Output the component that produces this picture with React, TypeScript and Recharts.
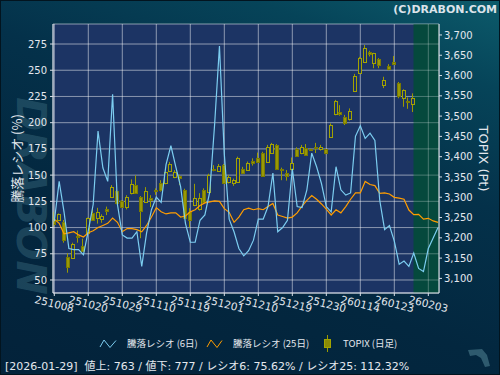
import React from "react";
import {
  ComposedChart,
  XAxis,
  YAxis,
  CartesianGrid,
  Line,
  Bar,
  ReferenceArea,
} from "recharts";

// x tick labels, one every 7 trading days
const dateTicks = [
  "251008", "251020", "251029", "251110", "251119", "251201",
  "251210", "251219", "251230", "260114", "260123", "260203",
];

// 騰落レシオ (6日)
const ratio6 = [
  106, 144, 115, 80, 79, 79, 74, 97, 122, 192,
  157, 144, 227, 122, 93, 90, 90, 96, 63, 95,
  117, 129, 124, 160, 178, 158, 139, 104, 86, 86,
  107, 112, 134, 198, 273, 170, 108, 96, 80, 73,
  78, 88, 108, 108, 120, 152, 96, 100, 107, 156,
  120, 119, 136, 171, 158, 142, 120, 115, 158, 136,
  131, 133, 187, 197, 185, 190, 183, 126, 98, 102,
  87, 65, 68, 63, 75.6, 61, 58, 80, 90, 100,
];

// 騰落レシオ (25日)
const ratio25 = [
  108, 104, 94, 95, 96, 93, 91, 95, 97, 100,
  102, 104, 109, 105, 96, 99, 99, 98, 96, 102,
  110, 119, 115, 113, 114, 114, 110, 111, 115, 117,
  121, 123.5, 124.5, 125.5, 125, 118, 114.5, 105, 110, 117,
  118.5, 117, 118, 117, 120, 123, 112, 110.5, 109, 110,
  114, 120.5, 126, 130.5, 127, 122.5, 117.5, 112, 117, 114,
  120, 127, 133, 133, 144, 141, 140, 132.6, 133, 132,
  128.8, 128, 127, 116.7, 112.3, 112.6, 108, 108.8, 106.3, 105,
];

// TOPIX daily candles
const topixOpen = [
  3244, 3245, 3240, 3152, 3151, 3204, 3180, 3213, 3262, 3250,
  3247, 3271, 3301, 3316, 3291, 3275, 3311, 3329, 3301, 3289,
  3299, 3318, 3334, 3334, 3365, 3349, 3352, 3319, 3264, 3281,
  3270, 3318, 3314, 3369, 3365, 3379, 3338, 3334, 3338, 3369,
  3367, 3390, 3396, 3410, 3388, 3410, 3429, 3370, 3359, 3370,
  3418, 3408, 3422, 3419, 3423, 3420, 3418, 3448, 3504, 3511,
  3499, 3492, 3563, 3607, 3634, 3657, 3632, 3640, 3577, 3624,
  3634, 3582, 3544, 3536, 3530,
];
const topixHigh = [
  3264, 3260, 3244, 3162, 3188, 3218, 3198, 3250, 3276, 3274,
  3258, 3277, 3330, 3319, 3293, 3305, 3344, 3354, 3303, 3325,
  3305, 3322, 3342, 3363, 3387, 3367, 3355, 3321, 3273, 3333,
  3310, 3322, 3358, 3379, 3382, 3382, 3355, 3346, 3400, 3375,
  3388, 3396, 3410, 3412, 3429, 3434, 3431, 3373, 3367, 3398,
  3423, 3429, 3431, 3420, 3434, 3429, 3420, 3482, 3540, 3527,
  3503, 3519, 3604, 3646, 3675, 3661, 3656, 3643, 3597, 3628,
  3648, 3584, 3566, 3546, 3556,
];
const topixLow = [
  3227, 3242, 3188, 3114, 3150, 3188, 3166, 3211, 3243, 3235,
  3237, 3256, 3299, 3283, 3275, 3270, 3307, 3308, 3199, 3287,
  3276, 3306, 3314, 3332, 3363, 3347, 3330, 3249, 3226, 3278,
  3267, 3287, 3311, 3364, 3363, 3334, 3334, 3328, 3336, 3357,
  3365, 3378, 3385, 3351, 3386, 3408, 3367, 3342, 3341, 3366,
  3401, 3406, 3403, 3414, 3409, 3415, 3406, 3446, 3502, 3501,
  3478, 3489, 3563, 3605, 3632, 3647, 3618, 3618, 3569, 3613,
  3626, 3544, 3523, 3518, 3510,
];
const topixClose = [
  3234, 3258, 3195, 3129, 3185, 3201, 3168, 3248, 3245, 3264,
  3253, 3267, 3326, 3285, 3277, 3301, 3333, 3310, 3267, 3316,
  3293, 3317, 3318, 3361, 3382, 3361, 3347, 3250, 3244, 3297,
  3297, 3289, 3355, 3366, 3377, 3336, 3351, 3342, 3396, 3360,
  3384, 3384, 3388, 3352, 3425, 3431, 3369, 3366, 3353, 3384,
  3402, 3423, 3404, 3416, 3422, 3425, 3408, 3478, 3538, 3505,
  3482, 3513, 3599, 3642, 3667, 3653, 3655, 3626, 3589, 3615,
  3628, 3550, 3564, 3535, 3544,
];

const leftTicks = [50, 75, 100, 125, 150, 175, 200, 225, 250, 275];
const rightTicks = [3100, 3150, 3200, 3250, 3300, 3350, 3400, 3450, 3500, 3550, 3600, 3650, 3700];

const XMIN = -0.27;
const XMAX = 79.2;
const LAST_CANDLE = 73.95; // 2026-01-29, start of the green zone

const FONT = "'DejaVu Sans', 'Noto Sans CJK JP', sans-serif";
const JFONT = "'Noto Sans CJK JP', 'DejaVu Sans', sans-serif";
const TXT = "#e4e8ee";
const PLOT_BG = "#1c3464";

const rows = ratio6.map((v, i) => ({
  i,
  r6: v,
  r25: ratio25[i],
  o: topixOpen[i],
  h: topixHigh[i],
  l: topixLow[i],
  c: topixClose[i],
}));

const Candle = (props: any) => {
  const { x, y, width, height, payload } = props;
  if (payload == null || payload.h == null) return null;
  const { o, h, l, c } = payload;
  const top = Math.min(y, y + height);
  const bot = Math.max(y, y + height);
  const span = h - l || 1;
  const py = (v: number) => top + ((h - v) / span) * (bot - top);
  const mid = Math.round(x + width / 2);
  const bTop = Math.round(py(Math.max(o, c))) + 0.5;
  const bBot = Math.round(py(Math.min(o, c))) + 0.5;
  const up = c > o;
  return (
    <g>
      <line x1={mid - 0.5} x2={mid - 0.5} y1={top} y2={bot} stroke="#9a9a00" strokeWidth={1} />
      <rect
        x={mid - 1.5}
        y={bTop}
        width={3}
        height={Math.max(1, bBot - bTop)}
        fill={up ? PLOT_BG : "#999906"}
        stroke={up ? "#a3a300" : "#7a7a00"}
        strokeWidth={1}
      />
    </g>
  );
};

const XTick = (props: any) => {
  const { x, y, payload } = props;
  const label = dateTicks[Math.round(payload.value / 7)];
  const cy = y + 6;
  return (
    <text
      x={x}
      y={cy}
      dy="0.35em"
      textAnchor="middle"
      transform={`rotate(14, ${x}, ${cy})`}
      fontSize={10.5}
      fontFamily={FONT}
      fill={TXT}
    >
      {label}
    </text>
  );
};

const Decor = () => (
  <svg width={500} height={375} style={{ position: "absolute", left: 0, top: 0, pointerEvents: "none" }}>
    {/* header */}
    <text x={497} y={13} textAnchor="end" fontSize={11} fontWeight="bold" fontFamily={FONT} fill="#dce3ea">
      (C)DRABON.COM
    </text>
    {/* legend */}
    <polyline points="100,347 104,340 110,347.5 116,340.5" fill="none" stroke="#7ccdf0" strokeWidth={1} />
    <text x={127} y={344} dy="0.35em" fontSize={9.5} fontFamily={JFONT} fill={TXT}>
      騰落レシオ (6日)
    </text>
    <polyline points="207,347 211,340 217,347.5 222,340.5" fill="none" stroke="#ff9d00" strokeWidth={1} />
    <text x={233} y={344} dy="0.35em" fontSize={9.5} fontFamily={JFONT} fill={TXT}>
      騰落レシオ (25日)
    </text>
    <line x1={327.5} x2={327.5} y1={335} y2={352} stroke="#9a9a00" />
    <rect x={324.5} y={339.5} width={6} height={8} fill="#8a8a06" stroke="#a3a300" />
    <text x={343} y={344} dy="0.35em" fontSize={9.5} fontFamily={JFONT} fill={TXT}>
      TOPIX (日足)
    </text>
    {/* footer */}
    <text x={5} y={366} dy="0.35em" fontSize={11} fontFamily={FONT} fill={TXT} style={{ whiteSpace: "pre" }}>
      {"[2026-01-29]  値上: 763 / 値下: 777 / レシオ6: 75.62% / レシオ25: 112.32%"}
    </text>
    {/* small logo */}
    <path d="M468,350 L482,349 L487,355 L490,366 L485,367 L481,358 L476,355 L470,356 Z" fill="#2e5a6e" />
  </svg>
);

export default function App() {
  return (
    <div
      style={{
        position: "absolute",
        left: 0,
        top: 0,
        width: 500,
        height: 375,
        overflow: "hidden",
        boxSizing: "border-box",
        border: "1px solid #02141f",
        background:
          "linear-gradient(200deg, #0c5b6b 0%, #064459 16%, #04314a 38%, #03273f 65%, #03223a 100%)",
      }}
    >
      <svg width={500} height={375} style={{ position: "absolute", left: -1, top: -1 }}>
        <text
          x={0}
          y={0}
          transform="translate(17, 196) rotate(90)"
          textAnchor="middle"
          fontSize={41}
          fontWeight="bold"
          fontStyle="italic"
          fontFamily={FONT}
          fill="#3c6c80"
          fillOpacity={0.45}
        >
          DRABON
        </text>
      </svg>
      <div style={{ position: "absolute", left: -1, top: -1 }}>
        <ComposedChart
          width={500}
          height={375}
          data={rows}
          margin={{ top: 24, right: 0, bottom: 52, left: 0 }}
        >
          <CartesianGrid
            yAxisId="left"
            fill={PLOT_BG}
            stroke="#ffffff"
            strokeOpacity={0.28}
            zIndex={-100}
          />
          <ReferenceArea
            yAxisId="left"
            x1={LAST_CANDLE}
            x2={XMAX}
            fill="#05493d"
            fillOpacity={1}
            stroke="none"
            zIndex={-90}
          />
          <CartesianGrid
            yAxisId="left"
            fill="none"
            stroke="#ffffff"
            strokeOpacity={0.28}
            zIndex={-80}
          />
          <XAxis
            dataKey="i"
            type="number"
            domain={[XMIN, XMAX]}
            allowDataOverflow
            ticks={dateTicks.map((_, k) => k * 7)}
            interval={0}
            tick={<XTick />}
            tickSize={3}
            height={30}
            stroke="#d8dde6"
          />
          <YAxis
            yAxisId="left"
            domain={[37.6, 294.1]}
            allowDataOverflow
            ticks={leftTicks}
            interval={0}
            width={53}
            tickSize={3}
            tickMargin={3}
            stroke="#d8dde6"
            tick={{ fill: TXT, fontSize: 10, fontFamily: FONT }}
            label={{
              value: "騰落レシオ (%)",
              angle: -90,
              position: "center",
              dx: -9,
              fill: TXT,
              fontSize: 13,
              fontFamily: JFONT,
            }}
          />
          <YAxis
            yAxisId="right"
            orientation="right"
            domain={[3064, 3727]}
            allowDataOverflow
            ticks={rightTicks}
            interval={0}
            width={61}
            tickSize={3}
            tickMargin={2}
            stroke="#d8dde6"
            tickFormatter={(v: number) => v.toLocaleString("en-US")}
            tick={{ fill: TXT, fontSize: 10, fontFamily: FONT }}
            label={{
              value: "TOPIX (Pt)",
              angle: 90,
              position: "center",
              dx: 14,
              fill: TXT,
              fontSize: 13,
              fontFamily: FONT,
            }}
          />
          <Bar
            yAxisId="right"
            dataKey={(d: any) => (d.h == null ? null : [d.l, d.h])}
            barSize={4}
            shape={<Candle />}
            isAnimationActive={false}
          />
          <Line
            yAxisId="left"
            type="linear"
            dataKey="r25"
            stroke="#ff9d00"
            strokeWidth={1.2}
            dot={false}
            isAnimationActive={false}
          />
          <Line
            yAxisId="left"
            type="linear"
            dataKey="r6"
            stroke="#7ccdf0"
            strokeWidth={1.2}
            dot={false}
            isAnimationActive={false}
          />
        </ComposedChart>
      </div>
      <div style={{ position: "absolute", left: -1, top: -1 }}>
        <Decor />
      </div>
    </div>
  );
}
